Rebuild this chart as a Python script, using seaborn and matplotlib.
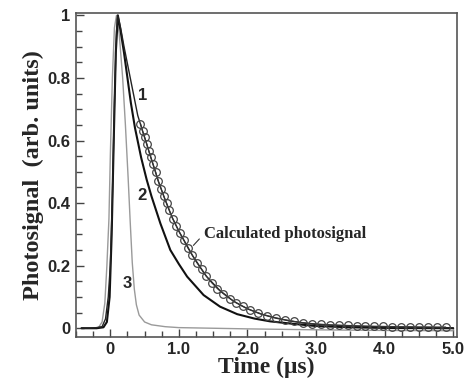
import numpy as np
import pandas as pd
import matplotlib
matplotlib.use("Agg")
import matplotlib.pyplot as plt
import seaborn as sns

# values (time in microseconds, normalised signal)
t_curve1 = [-0.42, -0.3, -0.2, -0.12, -0.07, -0.03, 0.0, 0.03, 0.06, 0.09, 0.11, 0.15, 0.2, 0.3,
            0.4, 0.5, 0.6, 0.7, 0.8, 0.9, 1.0, 1.2, 1.4, 1.6, 1.8, 2.0, 2.2, 2.4, 2.6, 2.8, 3.0,
            3.5, 4.0, 4.5, 5.0]
v_curve1 = [0.0, 0.0, 0.002, 0.005, 0.03, 0.1, 0.2, 0.42, 0.72, 0.95, 1.0, 0.96, 0.9, 0.79,
            0.68, 0.61, 0.54, 0.47, 0.41, 0.355, 0.31, 0.232, 0.166, 0.12, 0.086, 0.062, 0.045,
            0.033, 0.024, 0.017, 0.012, 0.007, 0.004, 0.002, 0.001]

t_curve2 = [-0.42, -0.2, -0.1, -0.05, -0.01, 0.02, 0.05, 0.08, 0.11, 0.15, 0.2, 0.25, 0.3, 0.36,
            0.45, 0.53, 0.6, 0.73, 0.875, 1.0, 1.12, 1.36, 1.6, 1.85, 2.1, 2.33, 2.67, 3.0, 3.5,
            4.0, 5.0]
v_curve2 = [0.0, 0.0, 0.003, 0.02, 0.1, 0.3, 0.6, 0.88, 1.0, 0.95, 0.88, 0.8, 0.72, 0.64,
            0.545, 0.475, 0.422, 0.335, 0.25, 0.205, 0.165, 0.106, 0.069, 0.045, 0.031, 0.022,
            0.014, 0.007, 0.003, 0.001, 0.0]

t_curve3 = [-0.42, -0.25, -0.17, -0.12, -0.08, -0.05, -0.02, 0.0, 0.03, 0.06, 0.09, 0.13, 0.18,
            0.22, 0.26, 0.29, 0.32, 0.35, 0.38, 0.42, 0.5, 0.6, 0.8, 1.0, 1.5, 2.0, 3.0, 4.0, 5.0]
v_curve3 = [0.0, 0.0, 0.003, 0.02, 0.08, 0.2, 0.35, 0.55, 0.8, 0.96, 1.0, 0.94, 0.8,
            0.65, 0.48, 0.34, 0.21, 0.125, 0.075, 0.042, 0.02, 0.011, 0.005, 0.002, 0.0, -0.002,
            -0.005, -0.007, -0.008]

# circles of the calculated photosignal
t_calc = [0.44, 0.47, 0.50, 0.53, 0.56, 0.59, 0.62, 0.66, 0.70, 0.74, 0.78, 0.82, 0.86, 0.91,
          0.96, 1.01, 1.07, 1.13, 1.19, 1.26, 1.33, 1.40, 1.48, 1.56, 1.65, 1.74, 1.83, 1.93,
          2.04, 2.16, 2.29, 2.42, 2.55, 2.68, 2.81, 2.94, 3.07, 3.20, 3.33, 3.46, 3.59, 3.72,
          3.85, 3.98, 4.11, 4.24, 4.37, 4.50, 4.63, 4.76, 4.89]
v_calc = [0.654, 0.63, 0.61, 0.59, 0.567, 0.546, 0.526, 0.50, 0.47, 0.446, 0.422, 0.40, 0.377,
          0.35, 0.328, 0.306, 0.282, 0.257, 0.235, 0.21, 0.188, 0.167, 0.145, 0.127, 0.11,
          0.095, 0.082, 0.07, 0.059, 0.049, 0.04, 0.033, 0.027, 0.022, 0.018, 0.015, 0.013,
          0.011, 0.01, 0.009, 0.008, 0.007, 0.0065, 0.006, 0.0055, 0.005, 0.005, 0.0045,
          0.0045, 0.004, 0.004]

x_ticks = [0, 1, 2, 3, 4, 5]
x_labels = ["0", "1.0", "2.0", "3.0", "4.0", "5.0"]
y_ticks = [0, 0.2, 0.4, 0.6, 0.8, 1.0]
y_labels = ["0", "0.2", "0.4", "0.6", "0.8", "1"]

sns.set_theme(style="ticks")
plt.rcParams["font.family"] = ["Liberation Sans", "DejaVu Sans"]
serif = ["Liberation Serif", "DejaVu Serif"]

fig = plt.figure(figsize=(4.71, 3.83), dpi=100)
ax = fig.add_axes([0.1614, 0.1209, 0.8082, 0.8439])

sns.lineplot(x=t_curve3, y=v_curve3, ax=ax, color="#9a9a9a", lw=1.0, sort=False)
sns.lineplot(x=t_curve2, y=v_curve2, ax=ax, color="#111111", lw=1.5, sort=False)
sns.lineplot(x=t_curve1, y=v_curve1, ax=ax, color="#222222", lw=1.0, sort=False)
sns.lineplot(x=t_calc, y=v_calc, ax=ax, color="#333333", lw=0.8, sort=False,
             marker="o", markersize=5.5, markerfacecolor="none",
             markeredgecolor="#444444", markeredgewidth=0.9)

ax.set_xlim(-0.5, 5.05)
ax.set_ylim(-0.027, 1.006)
ax.set_xticks(x_ticks, x_labels)
ax.set_yticks(y_ticks, y_labels)
ax.set_xticks(np.arange(-0.5, 5.01, 0.25), minor=True)
ax.set_yticks(np.arange(0, 1.001, 0.05), minor=True)
ax.tick_params(which="both", direction="in", color="#444444", width=1.0,
               top=False, right=False)
ax.tick_params(which="major", length=6, labelsize=12, pad=4)
ax.tick_params(which="minor", length=4)
for lab in ax.get_xticklabels() + ax.get_yticklabels():
    lab.set_fontweight("bold")
for sp in ax.spines.values():
    sp.set_color("#555555")
    sp.set_linewidth(1.2)

ax.set_xlabel("Time (μs)", family=serif, fontweight="bold", fontsize=17, labelpad=0)
ax.set_ylabel("Photosignal  (arb. units)", family=serif, fontweight="bold", fontsize=17.5)
ax.yaxis.set_label_coords(-0.085, 0.5)

ax.text(0.47, 0.745, "1", fontsize=12, fontweight="bold", ha="center", va="center")
ax.text(0.46, 0.425, "2", fontsize=12, fontweight="bold", ha="center", va="center")
ax.text(0.24, 0.143, "3", fontsize=12, fontweight="bold", ha="center", va="center")
ax.annotate("Calculated photosignal", xy=(1.17, 0.255), xytext=(1.36, 0.30),
            family=serif, fontweight="bold", fontsize=12, ha="left", va="center",
            arrowprops=dict(arrowstyle="-", color="#333333", lw=0.8, relpos=(0, 0.5),
                            shrinkA=1, shrinkB=3))

fig.savefig("out.png", dpi=100)
